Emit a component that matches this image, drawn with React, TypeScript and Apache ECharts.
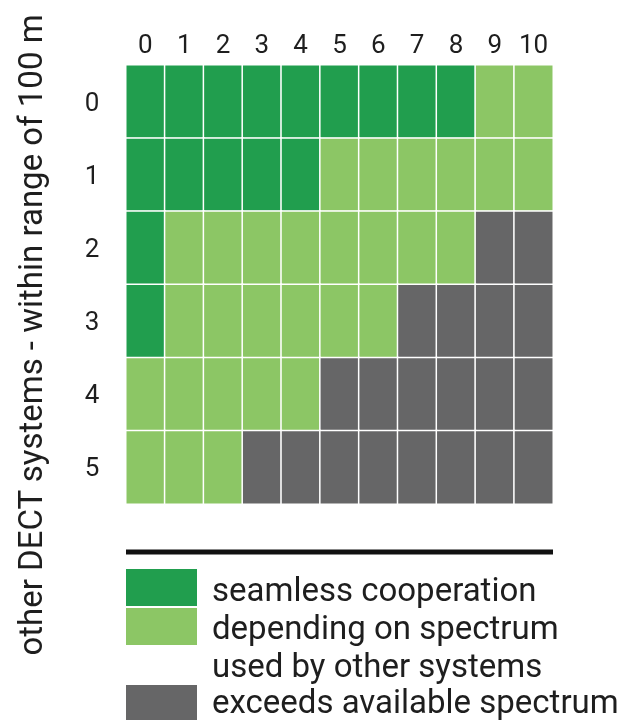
import React, { useEffect, useRef } from "react";
import * as echarts from "echarts";

const xCategories = ["0", "1", "2", "3", "4", "5", "6", "7", "8", "9", "10"];
const yCategories = ["0", "1", "2", "3", "4", "5"];
// 0 = seamless cooperation, 1 = depending on spectrum, 2 = exceeds available spectrum
const row0 = [0, 0, 0, 0, 0, 0, 0, 0, 0, 1, 1];
const row1 = [0, 0, 0, 0, 0, 1, 1, 1, 1, 1, 1];
const row2 = [0, 1, 1, 1, 1, 1, 1, 1, 1, 2, 2];
const row3 = [0, 1, 1, 1, 1, 1, 1, 2, 2, 2, 2];
const row4 = [1, 1, 1, 1, 1, 2, 2, 2, 2, 2, 2];
const row5 = [1, 1, 1, 2, 2, 2, 2, 2, 2, 2, 2];
const rows = [row0, row1, row2, row3, row4, row5];

const categoryColors = ["#219e4e", "#8cc665", "#666667"];
const legendLabels = [
  "seamless cooperation",
  "depending on spectrum",
  "used by other systems",
  "exceeds available spectrum",
];
const yTitle = "other DECT systems - within range of 100 m";

export default function App() {
  const ref = useRef<HTMLDivElement>(null);
  useEffect(() => {
    if (!ref.current) return;
    const chart = echarts.init(ref.current, undefined, { renderer: "svg" });
    const data: number[][] = [];
    rows.forEach((r, yi) => r.forEach((v, xi) => data.push([xi, yi, v])));
    const font = "Roboto";
    const textColor = "#1e1e1e";
    chart.setOption({
      animation: false,
      grid: { left: 126, top: 65, width: 427, height: 439 },
      xAxis: {
        type: "category",
        data: xCategories,
        position: "top",
        axisLine: { show: false },
        axisTick: { show: false },
        splitLine: { show: false },
        axisLabel: { fontSize: 26, color: textColor, fontFamily: font, margin: 8 },
      },
      yAxis: {
        type: "category",
        data: yCategories,
        inverse: true,
        axisLine: { show: false },
        axisTick: { show: false },
        splitLine: { show: false },
        axisLabel: { fontSize: 26, color: textColor, fontFamily: font, margin: 34, align: "center" },
      },
      visualMap: {
        type: "piecewise",
        show: false,
        dimension: 2,
        pieces: [
          { value: 0, color: categoryColors[0] },
          { value: 1, color: categoryColors[1] },
          { value: 2, color: categoryColors[2] },
        ],
      },
      series: [
        {
          type: "heatmap",
          data,
          itemStyle: { borderColor: "#ffffff", borderWidth: 1.5 },
          label: { show: false },
        },
      ],
      graphic: [
        {
          type: "line",
          shape: { x1: 126, y1: 552, x2: 553, y2: 552 },
          style: { stroke: "#111111", lineWidth: 5 },
        },
        { type: "rect", shape: { x: 126, y: 569, width: 71, height: 37 }, style: { fill: categoryColors[0] } },
        { type: "rect", shape: { x: 126, y: 608, width: 71, height: 37 }, style: { fill: categoryColors[1] } },
        { type: "rect", shape: { x: 126, y: 685, width: 71, height: 36 }, style: { fill: categoryColors[2] } },
        ...legendLabels.map((t, i) => ({
          type: "text",
          x: 212,
          y: [589, 627, 665, 701][i],
          style: {
            text: t,
            fontSize: 33,
            lineHeight: 32,
            fontFamily: font,
            fill: textColor,
            verticalAlign: "middle",
            align: "left",
          },
        })),
        {
          type: "text",
          x: 30,
          y: 335,
          rotation: Math.PI / 2,
          style: {
            text: yTitle,
            fontSize: 33,
            fontFamily: font,
            fill: textColor,
            align: "center",
            verticalAlign: "middle",
          },
        },
      ],
    });
    return () => chart.dispose();
  }, []);
  return <div ref={ref} style={{ position: "fixed", left: 0, top: 0, width: 624, height: 720 }} />;
}
